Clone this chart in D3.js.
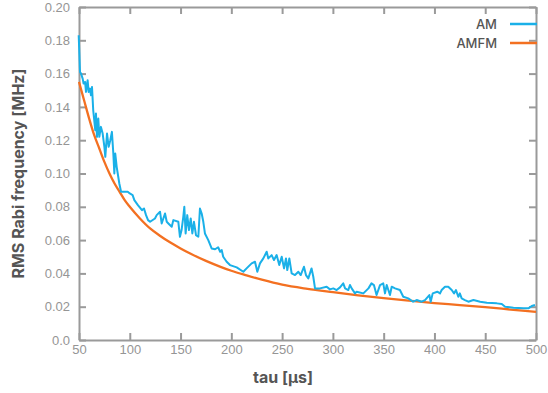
<!DOCTYPE html>
<html><head><meta charset="utf-8">
<script src="https://cdn.jsdelivr.net/npm/d3@7"></script>
<style>
html,body{margin:0;padding:0;background:#fff;}
svg{display:block;font-family:Inter,"Open Sans",sans-serif;}
</style></head>
<body><div id="chart"></div>
<script>
// ---- data ----
const amTau = [49.7,51,52,53.6,54.5,56,56.9,58.5,59.5,60.8,61.8,62.8,64,66,66.7,67.7,69,70,71.6,73.3,75,75.9,77.6,79.2,80.8,82.4,83.8,84.8,85.7,87.1,89.7,91.4,98,100,102.8,104.5,108,112,114,116,118,
  120,124.8,126.5,129.8,131.4,134.7,136.4,138,141.3,142.9,147.8,149.4,151,152.7,153.7,155,156.6,158.3,160,161.6,163.2,165.2,167.5,169.1,170.8,172.4,174,177.3,180.6,184,187,189,190.5,192,195.4,198.7,205.3,211.8,215,220,223.3,225.6,228.2,231.5,234.8,236.4,239.7,242,244.6,247.2,249.6,251.9,253.8,255.1,257.1,259.4,262.7,266,268.3,271.5,273.5,275.8,279,280.7,282.4,287.3,293.9,297.1,300.4,303.7,307,310.2,312,315.2,316.8,318.5,321.8,323.4,330,335,338,340.4,343,346.4,349.6,351.3,353,356.2,357.9,361.2,366,369.3,374.2,379,382.5,387.4,390.7,395,396.3,398.3,402.8,405.5,407.1,410.4,413.6,417,419.3,421.2,423.5,425,426.8,430,433.4,438.4,445,451.6,461.4,466.3,469.6,477.8,487.6,492.5,495.8,499];
const amVal = [0.183,0.161,0.160,0.157,0.154,0.155,0.149,0.156,0.149,0.151,0.147,0.152,0.138,0.126,0.136,0.122,0.133,0.122,0.128,0.124,0.116,0.110,0.124,0.116,0.120,0.125,0.112,0.100,0.112,0.104,0.094,0.089,0.089,0.088,0.087,0.084,0.081,0.078,0.079,0.075,0.072,
  0.071,0.073,0.075,0.077,0.070,0.076,0.071,0.070,0.068,0.072,0.071,0.062,0.066,0.074,0.080,0.064,0.075,0.066,0.073,0.064,0.071,0.063,0.062,0.079,0.076,0.071,0.064,0.060,0.055,0.0545,0.0557,0.053,0.054,0.050,0.047,0.045,0.0436,0.041,0.043,0.046,0.047,0.041,0.046,0.049,0.053,0.049,0.051,0.048,0.051,0.045,0.050,0.043,0.049,0.042,0.049,0.040,0.039,0.041,0.039,0.044,0.039,0.037,0.043,0.038,0.031,0.031,0.032,0.0304,0.031,0.030,0.0316,0.034,0.031,0.030,0.033,0.031,0.028,0.029,0.028,0.031,0.034,0.033,0.027,0.033,0.034,0.028,0.033,0.027,0.032,0.031,0.030,0.026,0.025,0.023,0.024,0.023,0.024,0.027,0.023,0.028,0.029,0.028,0.030,0.032,0.032,0.030,0.028,0.030,0.026,0.028,0.025,0.024,0.023,0.024,0.023,0.0224,0.022,0.0216,0.020,0.0194,0.019,0.019,0.0204,0.021];
const amfmTau = [50,55,60,65,70,75,80,85,90,95,100,110,120,130,140,150,160,175,190,200,215,230,250,275,300,325,350,375,400,425,450,475,500];
const amfmVal = [0.155,0.144,0.133,0.123,0.115,0.107,0.100,0.094,0.089,0.084,0.080,0.073,0.067,0.0625,0.0585,0.0550,0.0518,0.0475,0.0438,0.0416,0.0388,0.0362,0.0332,0.0307,0.0287,0.0268,0.0251,0.0236,0.0222,0.0210,0.0197,0.0183,0.0169];
const xTicks = [50,100,150,200,250,300,350,400,450,500];
const yTicks = [0,0.02,0.04,0.06,0.08,0.10,0.12,0.14,0.16,0.18,0.20];
const seriesNames = ["AM","AMFM"];
const colors = ["#1ab0e8","#f37021"];

// ---- chart ----
const W=548,H=393;
const m={l:79,r:12,t:7,b:53};
const svg=d3.select("#chart").append("svg").attr("width",W).attr("height",H);
const x=d3.scaleLinear().domain([50,500]).range([m.l,W-m.r]);
const y=d3.scaleLinear().domain([0,0.2]).range([H-m.b,m.t]);
const axisColor="#9a9a9a", tickTextColor="#959595";

function styleAxis(g){
  g.selectAll(".domain").attr("stroke",axisColor).attr("stroke-width",2);
  g.selectAll(".tick line").attr("stroke",axisColor).attr("stroke-width",2);
  g.selectAll(".tick text").attr("fill",tickTextColor).style("font-size","13px");
}
const fmtY = d => d===0 ? "0.0" : d3.format(".2f")(d);
// bottom
svg.append("g").attr("transform",`translate(0,${y(0)})`)
  .call(d3.axisBottom(x).tickValues(xTicks).tickSizeInner(-7).tickSizeOuter(0).tickPadding(5))
  .call(styleAxis);
// left
svg.append("g").attr("transform",`translate(${x(50)},0)`)
  .call(d3.axisLeft(y).tickValues(yTicks).tickFormat(fmtY).tickSizeInner(-7).tickSizeOuter(0).tickPadding(9))
  .call(styleAxis);
// top mirror
svg.append("g").attr("transform",`translate(0,${y(0.2)})`)
  .call(d3.axisTop(x).tickValues(xTicks).tickFormat("").tickSizeInner(-7).tickSizeOuter(0))
  .call(styleAxis);
// right mirror
svg.append("g").attr("transform",`translate(${x(500)},0)`)
  .call(d3.axisRight(y).tickValues(yTicks).tickFormat("").tickSizeInner(-7).tickSizeOuter(0))
  .call(styleAxis);

const line=d3.line().x(d=>x(d[0])).y(d=>y(d[1]));
const amData=d3.zip(amTau,amVal), amfmData=d3.zip(amfmTau,amfmVal);
svg.append("path").datum(amfmData).attr("d",d3.line().curve(d3.curveMonotoneX).x(d=>x(d[0])).y(d=>y(d[1])))
  .attr("fill","none").attr("stroke",colors[1]).attr("stroke-width",2.3);
svg.append("path").datum(amData).attr("d",line)
  .attr("fill","none").attr("stroke",colors[0]).attr("stroke-width",2).attr("stroke-linejoin","round");

// legend
seriesNames.forEach((n,i)=>{
  const ly=24+i*19;
  svg.append("text").attr("x",497).attr("y",ly).attr("dy","0.35em").attr("text-anchor","end")
    .attr("fill","#555").style("font-size","13px").style("font-weight","500").text(n);
  svg.append("line").attr("x1",510).attr("x2",537).attr("y1",ly).attr("y2",ly)
    .attr("stroke",colors[i]).attr("stroke-width",2.5);
});

// axis titles
svg.append("text").attr("x",283).attr("y",383).attr("text-anchor","middle")
  .attr("fill","#555").style("font-size","16px").style("font-weight","700").text("tau [µs]");
svg.append("text").attr("transform",`translate(24,${(y(0)+y(0.2))/2}) rotate(-90)`).attr("text-anchor","middle")
  .attr("fill","#555").style("font-size","16px").style("font-weight","700").text("RMS Rabi frequency [MHz]");
</script></body></html>
